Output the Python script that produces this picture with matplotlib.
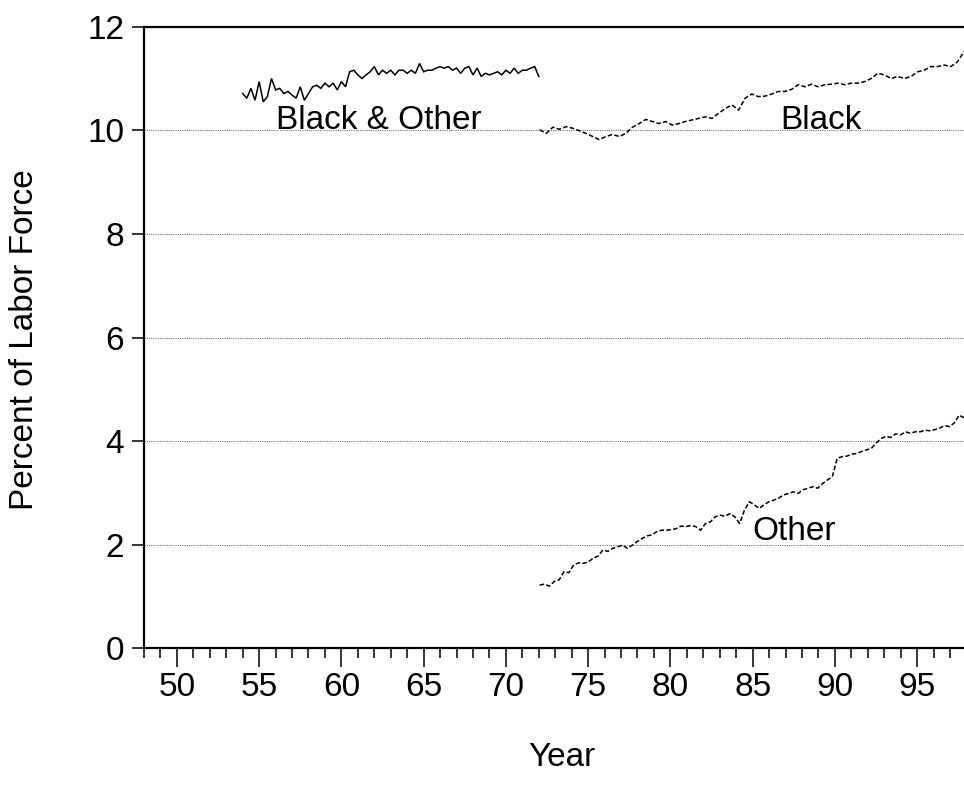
import numpy as np
import matplotlib
matplotlib.use("Agg")
import matplotlib.pyplot as plt
from matplotlib.ticker import MultipleLocator

plt.rcParams['font.family'] = ['Liberation Sans', 'DejaVu Sans']

# ---- data (percent of labor force) ----
black_other_start, black_other_end = 54.0, 72.0
black_other = [10.71, 10.62, 10.81, 10.58, 10.94, 10.55, 10.65, 11.00, 10.78, 10.81,
               10.71, 10.75, 10.68, 10.62, 10.84, 10.58, 10.71, 10.84, 10.87, 10.81,
               10.91, 10.84, 10.91, 10.78, 10.94, 10.84, 11.13, 11.16, 11.07, 11.00,
               11.07, 11.13, 11.23, 11.07, 11.16, 11.10, 11.16, 11.07, 11.16, 11.16,
               11.10, 11.16, 11.10, 11.29, 11.13, 11.16, 11.16, 11.20, 11.23, 11.20,
               11.23, 11.16, 11.20, 11.10, 11.20, 11.23, 11.07, 11.20, 11.04, 11.10,
               11.07, 11.10, 11.13, 11.07, 11.16, 11.10, 11.20, 11.10, 11.16, 11.16,
               11.20, 11.23, 11.04]

black_start, black_end = 72.05, 97.85
black = [10.01, 9.94, 10.06, 10.02, 10.07, 10.04, 9.99, 9.94, 9.88, 9.82,
         9.88, 9.92, 9.88, 9.94, 10.06, 10.13, 10.21, 10.17, 10.13, 10.17,
         10.10, 10.13, 10.17, 10.20, 10.23, 10.26, 10.23, 10.33, 10.42, 10.49,
         10.39, 10.62, 10.70, 10.65, 10.66, 10.70, 10.75, 10.75, 10.79, 10.88,
         10.84, 10.89, 10.84, 10.88, 10.89, 10.91, 10.88, 10.91, 10.91, 10.94,
         11.00, 11.10, 11.07, 11.00, 11.04, 11.00, 11.04, 11.13, 11.16, 11.23,
         11.23, 11.26, 11.23, 11.32, 11.52]

other_start, other_end = 72.05, 97.85
other = [1.22, 1.24, 1.20, 1.29, 1.32, 1.48, 1.46, 1.61, 1.65, 1.64,
         1.67, 1.74, 1.78, 1.90, 1.87, 1.93, 1.96, 1.99, 1.93, 1.99,
         2.06, 2.12, 2.17, 2.19, 2.25, 2.28, 2.28, 2.29, 2.31, 2.36,
         2.35, 2.37, 2.35, 2.28, 2.41, 2.44, 2.54, 2.57, 2.55, 2.60,
         2.54, 2.41, 2.67, 2.83, 2.77, 2.70, 2.77, 2.83, 2.86, 2.90,
         2.96, 2.99, 3.02, 2.99, 3.06, 3.09, 3.12, 3.09, 3.18, 3.25,
         3.31, 3.67, 3.70, 3.71, 3.75, 3.76, 3.80, 3.83, 3.86, 3.96,
         4.05, 4.09, 4.07, 4.14, 4.12, 4.18, 4.15, 4.18, 4.18, 4.21,
         4.20, 4.22, 4.25, 4.30, 4.28, 4.35, 4.50, 4.45]

labels = ["Black & Other", "Black", "Other"]
label_pos = [(56.0, 10.02), (86.66, 10.02), (84.96, 2.09)]

y_ticks = [0, 2, 4, 6, 8, 10, 12]
x_ticks = [50, 55, 60, 65, 70, 75, 80, 85, 90, 95]
x_ticklabels = ["50", "55", "60", "65", "70", "75", "80", "85", "90", "95"]

# ---- figure ----
fig = plt.figure(figsize=(9.64, 8.0), dpi=100)
ax = fig.add_axes([144 / 964, 1 - 648.3 / 800, (966.5 - 144) / 964, (648.3 - 26.7) / 800])

x_bo = np.linspace(black_other_start, black_other_end, len(black_other))
x_b = np.linspace(black_start, black_end, len(black))
x_o = np.linspace(other_start, other_end, len(other))

ax.plot(x_bo, black_other, color='black', lw=1.1, solid_joinstyle='miter')
ax.plot(x_b, black, color='black', lw=1.1, linestyle=(0, (3, 1.5)))
ax.plot(x_o, other, color='black', lw=1.1, linestyle=(0, (3, 1.5)))

for txt, (tx, ty) in zip(labels, label_pos):
    ax.text(tx, ty, txt, fontsize=24, ha='left', va='baseline', color='black')

ax.set_xlim(48, 98)
ax.set_ylim(0, 12)

for yv in y_ticks[1:-1]:
    ax.axhline(yv, color='#777777', lw=0.8, linestyle=(0, (1, 1)), zorder=0)

ax.set_yticks(y_ticks)
ax.set_xticks(x_ticks)
ax.set_xticklabels(x_ticklabels)
ax.xaxis.set_minor_locator(MultipleLocator(1))

ax.tick_params(axis='y', which='major', direction='out', length=8.4, width=1.1,
               labelsize=24, pad=6)
ax.tick_params(axis='x', which='major', direction='out', length=14, width=1.1,
               labelsize=24, pad=3)
ax.tick_params(axis='x', which='minor', direction='out', length=7, width=1.1)

for s in ['left', 'bottom', 'top']:
    ax.spines[s].set_linewidth(1.6)
ax.spines['right'].set_visible(False)

fig.text(25 / 964, 1 - 340 / 800, "Percent of Labor Force", rotation=90,
         fontsize=24, ha='center', va='center')
fig.text(562 / 964, 1 - 757 / 800, "Year", fontsize=24, ha='center', va='center')

fig.savefig("out.png", dpi=100)
